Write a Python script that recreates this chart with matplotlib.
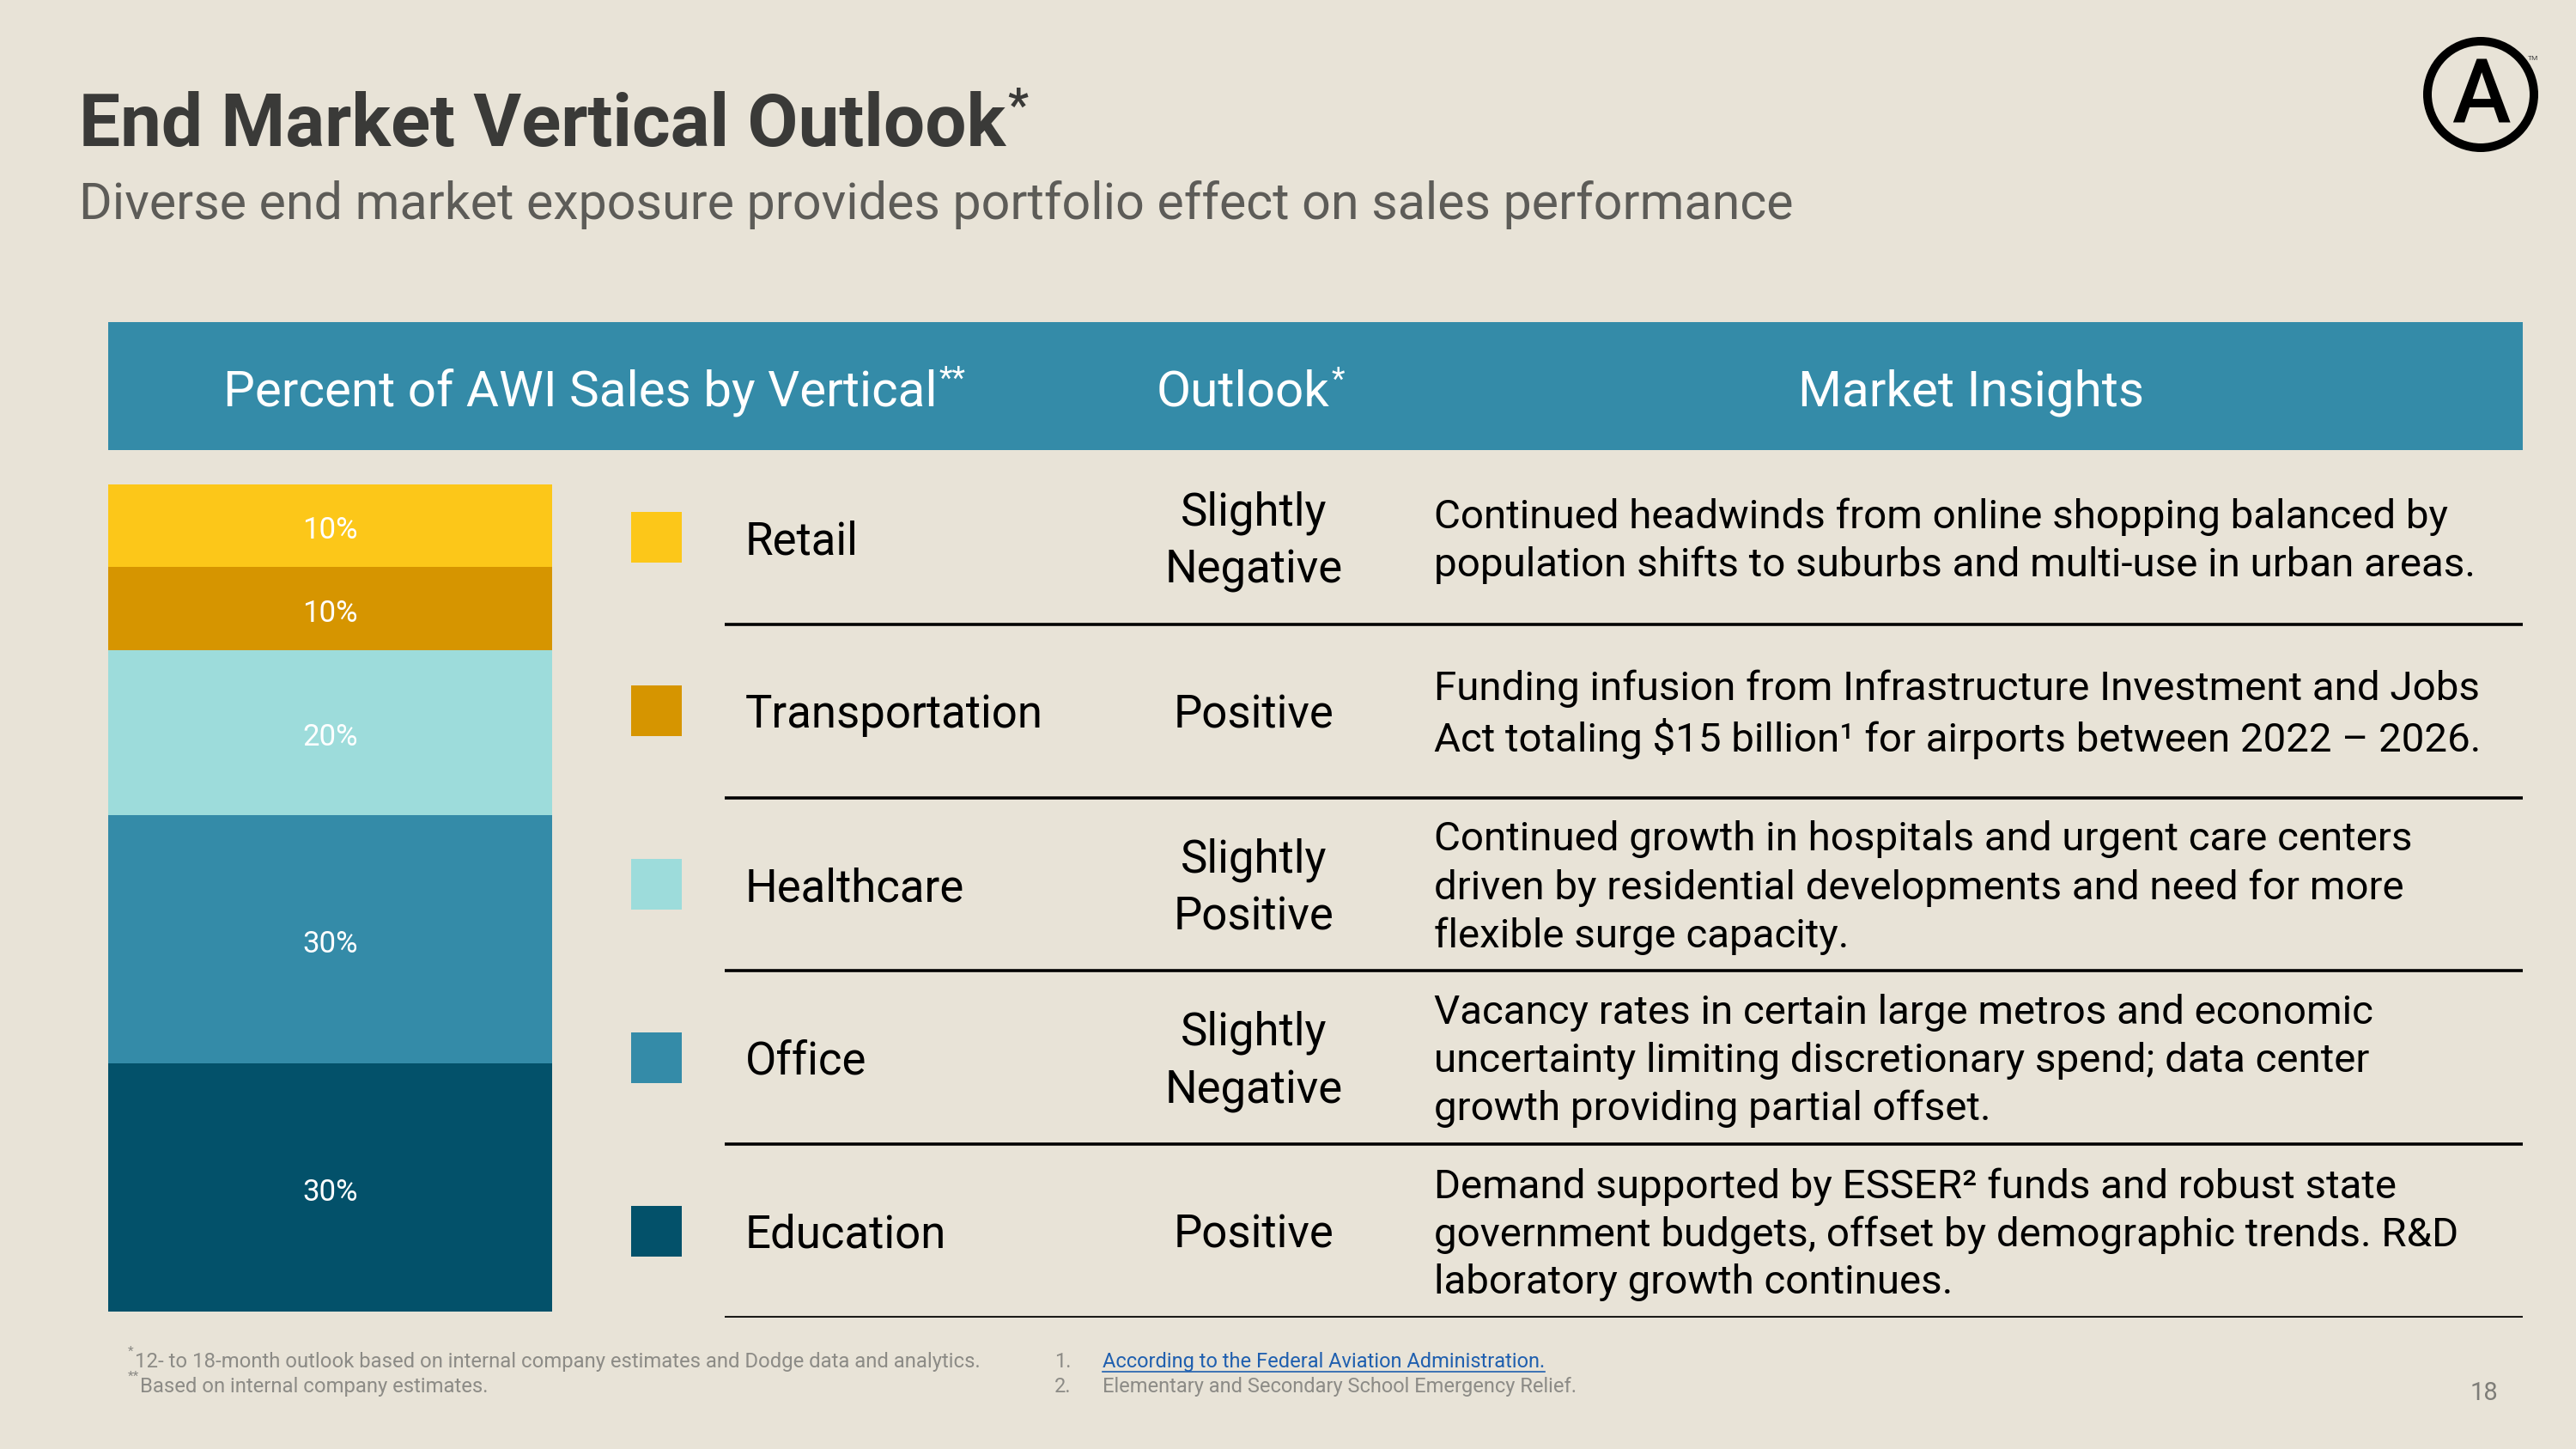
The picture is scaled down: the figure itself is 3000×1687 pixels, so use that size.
import matplotlib
matplotlib.use("Agg")
import matplotlib.pyplot as plt
from matplotlib.patches import Rectangle, Circle
import numpy as np

# ---------------- data ----------------
categories = ["Retail", "Transportation", "Healthcare", "Office", "Education"]
shares = [10, 10, 20, 30, 30]
share_labels = ["10%", "10%", "20%", "30%", "30%"]
outlooks = ["Slightly\nNegative", "Positive", "Slightly\nPositive", "Slightly\nNegative", "Positive"]
insights = [
    "Continued headwinds from online shopping balanced by\npopulation shifts to suburbs and multi-use in urban areas.",
    "Funding infusion from Infrastructure Investment and Jobs\nAct totaling \\$15 billion\u00b9 for airports between 2022 \u2013 2026.",
    "Continued growth in hospitals and urgent care centers\ndriven by residential developments and need for more\nflexible surge capacity.",
    "Vacancy rates in certain large metros and economic\nuncertainty limiting discretionary spend; data center\ngrowth providing partial offset.",
    "Demand supported by ESSER\u00b2 funds and robust state\ngovernment budgets, offset by demographic trends. R&D\nlaboratory growth continues.",
]
colors = ["#FCC719", "#D69500", "#9DDCDB", "#348BA8", "#03516A"]
header_labels = ["Percent of AWI Sales by Vertical", "Outlook", "Market Insights"]
header_marks = ["**", "*", ""]
title = "End Market Vertical Outlook"
subtitle = "Diverse end market exposure provides portfolio effect on sales performance"
foot_left = ["12- to 18-month outlook based on internal company estimates and Dodge data and analytics.",
             "Based on internal company estimates."]
foot_left_marks = ["*", "**"]
foot_right = ["According to the Federal Aviation Administration.",
              "Elementary and Secondary School Emergency Relief."]
page_no = "18"

# ---------------- style ----------------
BG = "#E8E3D7"
HEADER = "#348BA8"
FONT = ["Roboto", "DejaVu Sans"]
plt.rcParams["font.family"] = FONT

W, H = 3000, 1687
fig = plt.figure(figsize=(15, 8.435), dpi=200, facecolor=BG)

# overlay axes in pixel coordinates (top-down)
ax0 = fig.add_axes([0, 0, 1, 1])
ax0.set_xlim(0, W)
ax0.set_ylim(H, 0)
ax0.axis("off")
ax0.set_facecolor(BG)

renderer = fig.canvas.get_renderer()


def after(t, s, dy, **kw):
    bb = t.get_window_extent(renderer)
    return ax0.text(bb.x1 + 2, H - bb.y1 + dy, s, va="top", ha="left", **kw)


# title / subtitle
tt = ax0.text(92, 170, title, fontsize=30.8, fontweight="bold", color="#3A3A38", va="baseline")
after(tt, "*", -6, fontsize=19, fontweight="bold", color="#3A3A38")
ax0.text(92, 255, subtitle, fontsize=21.3, color="#5D5C58", va="baseline")

# logo
ax0.add_patch(Circle((2889, 110), 62, fill=False, lw=3.6, ec="black"))
ax0.text(2889, 142, "A", fontsize=37, fontweight="medium", ha="center", va="baseline",
         color="black")
ax0.text(2950, 68, "TM", fontsize=3, color="#444444", ha="center", va="center")

# header band
ax0.add_patch(Rectangle((126, 375), 2938 - 126, 524 - 375, color=HEADER, lw=0))
for lab, mk, xc in zip(header_labels, header_marks, [676, 1448, 2295]):
    t = ax0.text(xc, 472, lab, fontsize=21, color="white", ha="center", va="baseline")
    if mk:
        after(t, mk, -4, fontsize=13, color="white")

# ---------------- stacked bar ----------------
axb = fig.add_axes([126 / W, 1 - 1527 / H, (643 - 126) / W, (1527 - 564) / H])
axb.set_xlim(0, 1)
axb.set_ylim(100, 0)
axb.axis("off")
bottoms = np.concatenate([[0], np.cumsum(shares)[:-1]])
axb.bar(0.5, shares, bottom=bottoms, width=1.0, color=colors, lw=0)
for b, v, lab in zip(bottoms, shares, share_labels):
    axb.text(0.5, b + v / 2 + 0.6, lab, ha="center", va="center", color="white", fontsize=12.5)

# ---------------- table rows ----------------
axt = fig.add_axes([0, 1 - 1534 / H, 1, (1534 - 525) / H])
axt.set_xlim(0, W)
axt.set_ylim(len(categories), 0)
axt.axis("off")
ROWPX = (1534 - 525) / len(categories)
for i, (cat, col, outl, ins) in enumerate(zip(categories, colors, outlooks, insights)):
    yc = i + 0.5
    sq = 59
    axt.add_patch(Rectangle((735, yc - (sq / 2) / ROWPX), sq, sq / ROWPX, color=col, lw=0))
    axt.text(868, yc + 0.025, cat, fontsize=19, color="black", va="center", ha="left")
    axt.text(1460, yc + 0.025, outl, fontsize=19, color="black", va="center", ha="center",
             linespacing=1.4)
    axt.text(1670, yc + 0.02, ins, fontsize=17.1, color="black", va="center", ha="left",
             linespacing=1.33)
    axt.plot([844, 2938], [i + 1, i + 1], color="black", lw=1.3, solid_capstyle="butt")

# ---------------- footnotes ----------------
for k, (txt, mk) in enumerate(zip(foot_left, foot_left_marks)):
    yb = 1592 + 29 * k
    m = ax0.text(149, yb - 14, mk, fontsize=5.5, color="#8C8B86", va="baseline")
    bb = m.get_window_extent(renderer)
    ax0.text(bb.x1 + 1, yb, txt, fontsize=8.6, color="#8C8B86", va="baseline")
for k, txt in enumerate(foot_right):
    yb = 1592 + 29 * k
    ax0.text(1228, yb, f"{k + 1}.", fontsize=8.5, color="#8C8B86", va="baseline")
    if k == 0:
        t = ax0.text(1284, yb, txt, fontsize=8.5, color="#1F5FAF", va="baseline")
        bb = t.get_window_extent(renderer)
        ax0.plot([bb.x0, bb.x1], [yb + 5, yb + 5], color="#1F5FAF", lw=0.6)
    else:
        ax0.text(1284, yb, txt, fontsize=8.5, color="#8C8B86", va="baseline")

ax0.text(2893, 1622, page_no, fontsize=10.5, color="#7E7D78", ha="center", va="center")

fig.savefig("out.png", dpi=200, facecolor=BG)
